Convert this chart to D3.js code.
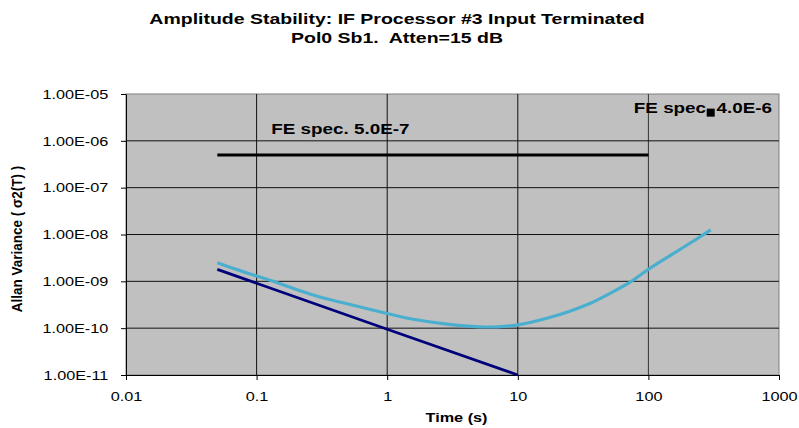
<!DOCTYPE html>
<html>
<head>
<meta charset="utf-8">
<script src="https://cdn.jsdelivr.net/npm/d3@7"></script>
<style>
  body { margin: 0; background: #fff; }
  svg { display: block; font-family: "Liberation Sans", Arial, sans-serif; }
  text { white-space: pre; }
</style>
</head>
<body>
<div id="chart"></div>
<script>
// tick values
const xTicks = [0.01, 0.1, 1, 10, 100, 1000];
const yTicks = [1e-11, 1e-10, 1e-9, 1e-8, 1e-7, 1e-6, 1e-5];

// FE spec line (horizontal)
const specTime = [0.05, 100];
const specValue = [5e-7, 5e-7];

// FE spec point
const specPointTime = [300];
const specPointValue = [4e-6];

// dark blue series
const navyTime = [0.05, 0.1, 1, 10];
const navyValue = [1.8e-9, 9.1e-10, 9.5e-11, 1.0e-11];

// light blue series
const cyanTime = [0.05, 0.07, 0.1, 0.15, 0.215, 0.3, 0.52, 1, 1.58, 2.86, 5.1, 7, 10, 17, 25, 36, 50, 72, 100, 155, 250, 300];
const cyanValue = [2.5e-9, 1.8e-9, 1.3e-9, 9e-10, 6.3e-10, 4.7e-10, 3.2e-10, 2.05e-10, 1.55e-10, 1.22e-10, 1.07e-10, 1.07e-10, 1.18e-10, 1.65e-10, 2.3e-10, 3.4e-10, 5.4e-10, 9.5e-10, 1.8e-9, 3.9e-9, 9.0e-9, 1.25e-8];

const W = 799, H = 428;
const plot = {left: 126, right: 779, top: 94, bottom: 375};
const SX = 1.3; // horizontal text stretch of the original picture

const svg = d3.select("#chart").append("svg")
    .attr("width", W)
    .attr("height", H);

const x = d3.scaleLog().domain([0.01, 1000]).range([plot.left, plot.right]);
const y = d3.scaleLog().domain([1e-11, 1e-5]).range([plot.bottom, plot.top]);

// plot background
svg.append("rect")
    .attr("x", plot.left)
    .attr("y", plot.top)
    .attr("width", plot.right - plot.left)
    .attr("height", plot.bottom - plot.top)
    .attr("fill", "#c0c0c0")
    .attr("stroke", "#808080");

// grid
svg.append("g").selectAll("line.v")
    .data(xTicks.slice(1, -1))
    .enter().append("line")
    .attr("x1", d => x(d)).attr("x2", d => x(d))
    .attr("y1", plot.top).attr("y2", plot.bottom)
    .attr("stroke", d => d === 100 ? "#333" : "#111");
svg.append("g").selectAll("line.h")
    .data(yTicks.slice(1, -1))
    .enter().append("line")
    .attr("x1", plot.left).attr("x2", plot.right)
    .attr("y1", d => y(d)).attr("y2", d => y(d))
    .attr("stroke", "#111");

function expFormat(d) {
    const e = Math.round(Math.log10(d));
    const a = Math.abs(e);
    return "1.00E" + (e < 0 ? "-" : "+") + (a < 10 ? "0" + a : a);
}

// axes
const yAxis = svg.append("g")
    .attr("transform", "translate(" + plot.left + ",0)")
    .call(d3.axisLeft(y).tickValues(yTicks).tickFormat(expFormat).tickSize(5).tickSizeOuter(0));
yAxis.selectAll("text")
    .attr("x", -17.7 / 1.25)
    .attr("transform", "scale(1.25,1)")
    .style("font-size", "13px")
    .attr("fill", "#000");

const xAxis = svg.append("g")
    .attr("transform", "translate(0," + plot.bottom + ")")
    .call(d3.axisBottom(x).tickValues(xTicks).tickFormat(d => String(d)).tickSize(5).tickSizeOuter(0));
xAxis.selectAll("text")
    .attr("y", 17)
    .attr("x", 0)
    .attr("transform", "scale(1.25,1)")
    .style("font-size", "13px")
    .attr("fill", "#000");
[yAxis, xAxis].forEach(a => {
    a.selectAll("line").attr("stroke", "#000");
    a.select(".domain").attr("stroke", "#000");
});

const line = d3.line()
    .x(d => x(d[0]))
    .y(d => y(d[1]));

// series
svg.append("path")
    .datum(d3.zip(cyanTime, cyanValue))
    .attr("d", line.curve(d3.curveCatmullRom.alpha(0.5)))
    .attr("fill", "none")
    .attr("stroke", "#4aafcf")
    .attr("stroke-width", 3.2);

svg.append("path")
    .datum(d3.zip(navyTime, navyValue))
    .attr("d", line.curve(d3.curveLinear))
    .attr("fill", "none")
    .attr("stroke", "#00007a")
    .attr("stroke-width", 2.8);

svg.append("path")
    .datum(d3.zip(specTime, specValue))
    .attr("d", line)
    .attr("fill", "none")
    .attr("stroke", "#000")
    .attr("stroke-width", 3);

svg.selectAll("rect.spec")
    .data(d3.zip(specPointTime, specPointValue))
    .enter().append("rect")
    .attr("x", d => x(d[0]) - 4)
    .attr("y", d => y(d[1]) - 4)
    .attr("width", 8)
    .attr("height", 8)
    .attr("fill", "#000");

function stretchedText(str, tx, ty, size, anchor, bold) {
    return svg.append("text")
        .attr("transform", "translate(" + tx + "," + ty + ") scale(" + SX + ",1)")
        .attr("text-anchor", anchor)
        .style("font-size", size + "px")
        .style("font-weight", bold ? "bold" : "normal")
        .attr("fill", "#000")
        .text(str);
}

// labels on the plot
stretchedText("FE spec. 5.0E-7", x(specTime[0]) + 54, y(specValue[0]) - 21, 14.5, "start", true);
stretchedText("FE spec. 4.0E-6", 772, y(specPointValue[0]), 14.5, "end", true);

// title
stretchedText("Amplitude Stability: IF Processor #3 Input Terminated", 397, 24, 15, "middle", true);
stretchedText("Pol0 Sb1.  Atten=15 dB", 397, 43, 15, "middle", true);

// axis titles
stretchedText("Time (s)", (plot.left + plot.right) / 2 + 4, 422, 12.5, "middle", true);
svg.append("text")
    .attr("transform", "translate(22,239) rotate(-90) scale(1,1.15)")
    .attr("text-anchor", "middle")
    .style("font-size", "13.5px")
    .style("font-weight", "bold")
    .text("Allan Variance ( σ2(T) )");
</script>
</body>
</html>
